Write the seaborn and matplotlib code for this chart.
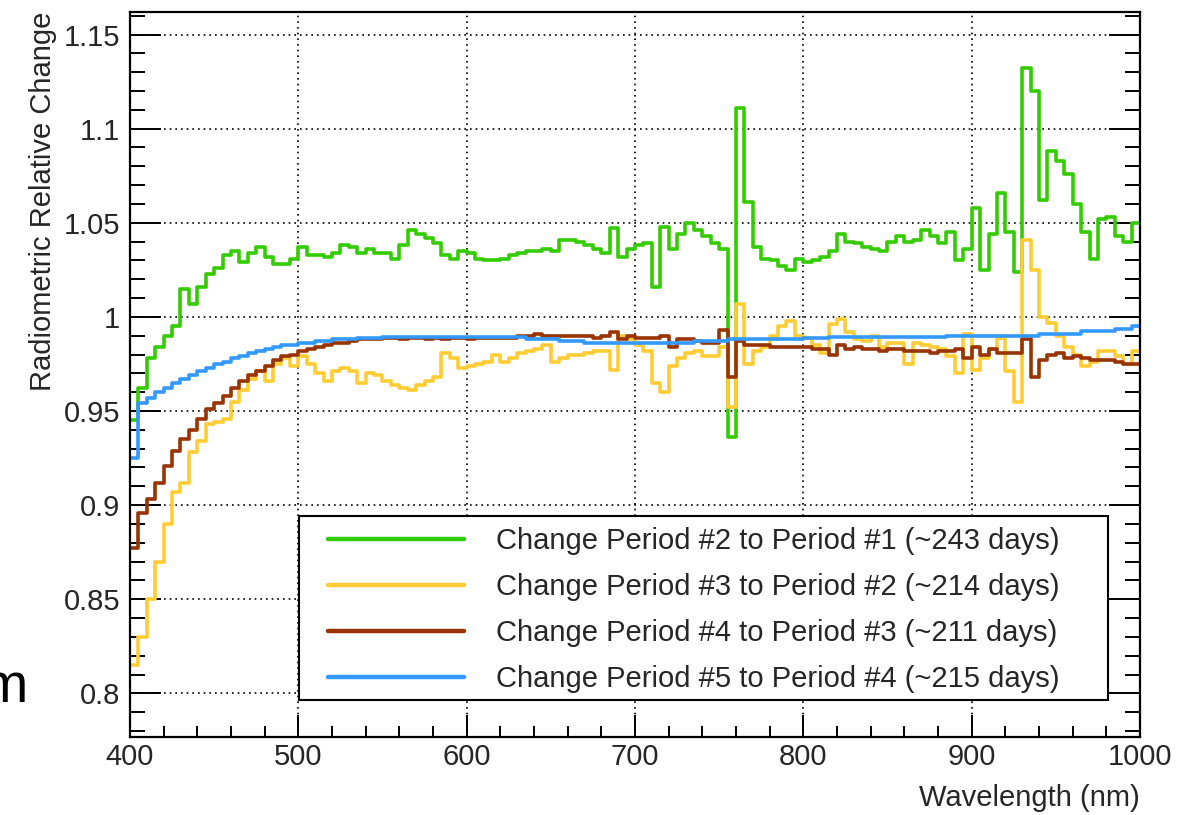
import numpy as np
import pandas as pd
import seaborn as sns
import matplotlib.pyplot as plt
from matplotlib.ticker import MultipleLocator, FuncFormatter
from matplotlib.patches import Rectangle

# bin edges (nm), 5 nm bins
wavelength = np.arange(400, 1001, 5)

# change period #2 -> #1
green = [0.945, 0.962, 0.978, 0.984, 0.990, 0.995, 1.015, 1.007, 1.016, 1.023,
         1.026, 1.033, 1.035, 1.029, 1.034, 1.037, 1.032, 1.028, 1.028, 1.031,
         1.037, 1.033, 1.033, 1.032, 1.034, 1.038, 1.037, 1.034, 1.036, 1.034,
         1.034, 1.031, 1.038, 1.046, 1.044, 1.042, 1.039, 1.033, 1.031, 1.035,
         1.034, 1.031, 1.030, 1.030, 1.031, 1.033, 1.034, 1.035, 1.035, 1.036,
         1.035, 1.041, 1.041, 1.040, 1.038, 1.036, 1.034, 1.047, 1.032, 1.036,
         1.038, 1.039, 1.016, 1.048, 1.036, 1.044, 1.050, 1.046, 1.043, 1.039,
         1.036, 0.936, 1.111, 1.061, 1.037, 1.031, 1.030, 1.027, 1.025, 1.031,
         1.029, 1.030, 1.032, 1.035, 1.044, 1.040, 1.039, 1.037, 1.036, 1.035,
         1.040, 1.043, 1.040, 1.041, 1.046, 1.043, 1.039, 1.045, 1.030, 1.036,
         1.058, 1.025, 1.044, 1.066, 1.045, 1.024, 1.132, 1.120, 1.062, 1.088,
         1.083, 1.076, 1.060, 1.045, 1.031, 1.052, 1.053, 1.043, 1.040, 1.050]

# change period #3 -> #2
yellow = [0.815, 0.830, 0.850, 0.870, 0.890, 0.907, 0.912, 0.928, 0.934, 0.943,
          0.944, 0.946, 0.955, 0.961, 0.967, 0.971, 0.966, 0.975, 0.978, 0.974,
          0.979, 0.975, 0.970, 0.966, 0.971, 0.973, 0.971, 0.965, 0.970, 0.969,
          0.966, 0.964, 0.962, 0.961, 0.964, 0.966, 0.968, 0.981, 0.978, 0.973,
          0.974, 0.975, 0.976, 0.980, 0.976, 0.978, 0.981, 0.982, 0.983, 0.985,
          0.976, 0.978, 0.980, 0.980, 0.981, 0.982, 0.982, 0.972, 0.990, 0.988,
          0.985, 0.982, 0.965, 0.960, 0.974, 0.978, 0.981, 0.982, 0.979, 0.979,
          0.984, 0.952, 1.007, 0.975, 0.982, 0.984, 0.990, 0.995, 0.998, 0.990,
          0.989, 0.985, 0.981, 0.996, 0.999, 0.992, 0.988, 0.987, 0.990, 0.984,
          0.986, 0.986, 0.975, 0.986, 0.985, 0.984, 0.983, 0.979, 0.970, 0.991,
          0.972, 0.978, 0.983, 0.989, 0.971, 0.955, 1.041, 1.025, 1.000, 0.997,
          0.990, 0.984, 0.980, 0.974, 0.976, 0.982, 0.982, 0.979, 0.975, 0.982]

# change period #4 -> #3
brown = [0.877, 0.896, 0.903, 0.912, 0.921, 0.929, 0.935, 0.940, 0.946, 0.951,
         0.954, 0.958, 0.962, 0.966, 0.969, 0.971, 0.974, 0.977, 0.979, 0.980,
         0.982, 0.983, 0.984, 0.985, 0.986, 0.986, 0.987, 0.988, 0.988, 0.988,
         0.989, 0.989, 0.988, 0.989, 0.989, 0.988, 0.989, 0.988, 0.989, 0.989,
         0.988, 0.989, 0.989, 0.989, 0.989, 0.989, 0.990, 0.990, 0.991, 0.990,
         0.990, 0.990, 0.990, 0.990, 0.990, 0.989, 0.990, 0.992, 0.988, 0.990,
         0.989, 0.989, 0.989, 0.990, 0.984, 0.988, 0.988, 0.987, 0.986, 0.986,
         0.993, 0.968, 0.987, 0.985, 0.985, 0.985, 0.984, 0.984, 0.984, 0.984,
         0.984, 0.983, 0.983, 0.980, 0.985, 0.983, 0.984, 0.983, 0.983, 0.982,
         0.983, 0.983, 0.982, 0.982, 0.982, 0.981, 0.982, 0.982, 0.983, 0.978,
         0.984, 0.980, 0.983, 0.981, 0.981, 0.981, 0.988, 0.968, 0.977, 0.980,
         0.981, 0.978, 0.979, 0.978, 0.977, 0.977, 0.977, 0.976, 0.975, 0.975]

# change period #5 -> #4
blue = [0.925, 0.954, 0.957, 0.960, 0.962, 0.965, 0.967, 0.969, 0.971, 0.973,
        0.975, 0.976, 0.978, 0.979, 0.981, 0.982, 0.983, 0.984, 0.985, 0.985,
        0.986, 0.986, 0.987, 0.987, 0.988, 0.988, 0.988, 0.989, 0.989, 0.989,
        0.9895, 0.9895, 0.9895, 0.9895, 0.9895, 0.9895, 0.9895, 0.9895, 0.9895, 0.9895,
        0.9895, 0.9895, 0.9895, 0.9895, 0.9895, 0.9895, 0.9895, 0.988, 0.988, 0.988,
        0.988, 0.987, 0.987, 0.987, 0.986, 0.986, 0.986, 0.986, 0.986, 0.986,
        0.986, 0.986, 0.986, 0.986, 0.986, 0.986, 0.986, 0.987, 0.987, 0.987,
        0.987, 0.988, 0.988, 0.988, 0.988, 0.988, 0.988, 0.988, 0.988, 0.988,
        0.989, 0.989, 0.989, 0.9895, 0.9895, 0.9895, 0.9895, 0.9895, 0.9895, 0.9895,
        0.9895, 0.9895, 0.9895, 0.9895, 0.9895, 0.9895, 0.9895, 0.990, 0.990, 0.990,
        0.990, 0.990, 0.990, 0.990, 0.990, 0.990, 0.990, 0.990, 0.991, 0.991,
        0.991, 0.991, 0.991, 0.9925, 0.9925, 0.9925, 0.9925, 0.9935, 0.9935, 0.995]

series_labels = ["Change Period #2 to Period #1 (~243 days)",
                 "Change Period #3 to Period #2 (~214 days)",
                 "Change Period #4 to Period #3 (~211 days)",
                 "Change Period #5 to Period #4 (~215 days)"]
series_colors = ["#33cc00", "#ffcc33", "#993300", "#3399ff"]

sns.set_theme(style="white")
plt.rcParams['font.family'] = ['Liberation Sans', 'DejaVu Sans']
FS = 21

fig = plt.figure(figsize=(11.99, 8.15), dpi=100)
ax = fig.add_axes([0.1084, 0.0957, 0.8424, 0.8896])

for vals, lab, col in zip([green, yellow, brown, blue], series_labels, series_colors):
    # repeat last value so the final bin reaches 1000 nm
    df = pd.DataFrame({"wl": wavelength, "val": list(vals) + [vals[-1]]})
    sns.lineplot(data=df, x="wl", y="val", ax=ax, color=col, linewidth=2.6,
                 drawstyle="steps-post", estimator=None, sort=False,
                 label=lab, legend=False)

ax.set_xlim(400, 1000)
ax.set_ylim(0.7768, 1.162)
ax.xaxis.set_major_locator(MultipleLocator(100))
ax.xaxis.set_minor_locator(MultipleLocator(20))
ax.yaxis.set_major_locator(MultipleLocator(0.05))
ax.yaxis.set_minor_locator(MultipleLocator(0.01))
ax.yaxis.set_major_formatter(FuncFormatter(lambda v, p: "%g" % round(v, 3)))

ax.grid(True, which="major", color="black", linestyle=(0, (1, 2.4)), linewidth=1.2)
ax.tick_params(axis="y", which="both", direction="in", left=True, right=True,
               labelsize=FS, width=1.4, pad=7, color="black")
ax.tick_params(axis="y", which="major", length=22)
ax.tick_params(axis="y", which="minor", length=11)
ax.tick_params(axis="x", which="both", direction="in", bottom=True, top=False,
               labelsize=FS, width=1.4, pad=4, color="black")
ax.tick_params(axis="x", which="major", length=16)
ax.tick_params(axis="x", which="minor", length=8)
for sp in ax.spines.values():
    sp.set_color("black")
    sp.set_linewidth(1.6)

ax.set_xlabel("Wavelength (nm)", fontsize=FS, loc="right", labelpad=10)
ax.set_ylabel("Radiometric Relative Change", fontsize=FS, loc="top", labelpad=5)

# legend box
ax.add_patch(Rectangle((0.1673, 0.051), 0.801, 0.2545, transform=ax.transAxes,
                       facecolor="white", edgecolor="black", linewidth=1.5, zorder=5))
handles, labels = ax.get_legend_handles_labels()
leg = ax.legend(handles, labels, loc="upper left", bbox_to_anchor=(0.196, 0.290),
                frameon=False, fontsize=FS, handlelength=4.68, handletextpad=1.07,
                labelspacing=0.62, borderpad=0, borderaxespad=0)
leg.set_zorder(6)
for h in leg.get_lines():
    h.set_linewidth(3.2)

fig.text(-19 / 1199, 0.1387, "m", fontsize=40, color="black", va="baseline")

fig.savefig("out.png", dpi=100)
